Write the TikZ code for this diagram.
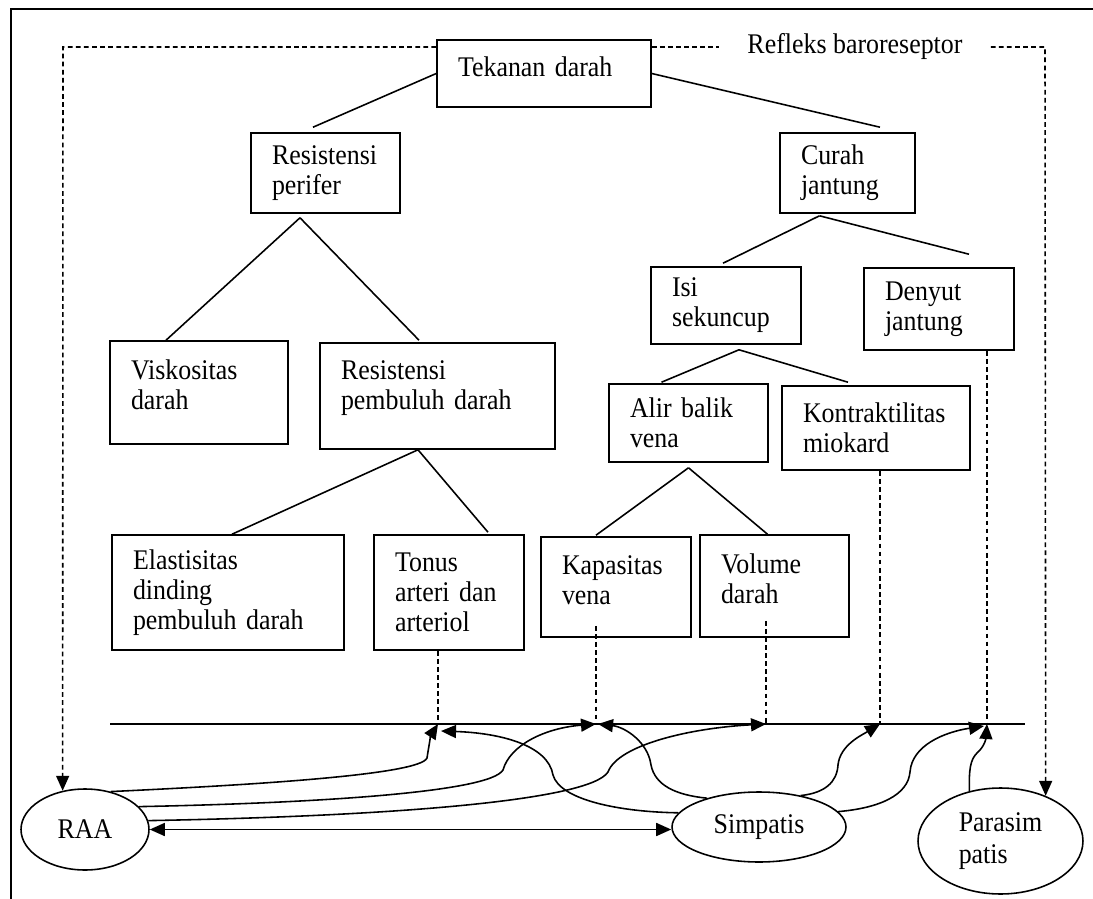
\documentclass[tikz,border=0pt]{standalone}
\usepackage{fontspec}
\setmainfont{Liberation Serif}[FakeStretch=0.91]
\usetikzlibrary{arrows.meta,calc,shapes.geometric}

\begin{document}
\begin{tikzpicture}[
  x=0.02cm,y=-0.02cm,
  font=\fontsize{16.2}{17}\selectfont,
  line width=0.9pt,
  >={Triangle[length=3mm,width=2.6mm]},
  box/.style={draw,rectangle,align=left,inner xsep=4.2mm,inner ysep=0pt},
  lifted/.style={execute at end node={\endgraf\vspace*{#1}}},
  blob/.style={draw,ellipse,inner sep=0pt},
  cue/.style={dash pattern=on 2.7pt off 1.9pt},
  flow/.style={->},
]
\useasboundingbox (0,0) rectangle (1093,899);

\coordinate (frameTL) at (11,9);
\coordinate (frameTR) at (1093,9);
\coordinate (frameBL) at (11,899);
\coordinate (cornerL) at (63,47);
\coordinate (cornerR) at (1045,47);
\coordinate (lineL) at (110,724);
\coordinate (lineR) at (1025,724);
\coordinate (hitTonus) at (438,724);
\coordinate (hitKap) at (596,724);
\coordinate (hitVol) at (766,724);
\coordinate (hitKon) at (880,724);
\coordinate (hitDen) at (987,724);

\node[box,lifted=0.26cm,minimum width=4.28cm,minimum height=1.34cm,text width=3.44cm] (tekanan) at (544,73.5) {Tekanan darah};
\node[inner xsep=5.5mm,inner ysep=1pt] (refleks) at (855,47) {Refleks baroreseptor};
\node[box,minimum width=2.98cm,minimum height=1.6cm,text width=2.14cm] (resPer) at (325.5,173) {Resistensi\\perifer};
\node[box,minimum width=2.7cm,minimum height=1.6cm,text width=1.86cm] (curah) at (847.5,173) {Curah\\jantung};
\node[box,lifted=0.3cm,minimum width=3.56cm,minimum height=2.06cm,text width=2.72cm] (visko) at (199,392.5) {Viskositas\\darah};
\node[box,lifted=0.3cm,minimum width=4.7cm,minimum height=2.12cm,text width=3.86cm] (resPem) at (437.5,396) {Resistensi\\pembuluh darah};
\node[box,minimum width=3cm,minimum height=1.54cm,text width=2.16cm] (isi) at (726,305.5) {Isi\\sekuncup};
\node[box,minimum width=3cm,minimum height=1.64cm,text width=2.16cm] (denyut) at (939,309) {Denyut\\jantung};
\node[box,minimum width=3.18cm,minimum height=1.56cm,text width=2.34cm] (alir) at (688.5,423) {Alir balik\\vena};
\node[box,minimum width=3.76cm,minimum height=1.68cm,text width=2.92cm] (kontrak) at (876,428) {Kontraktilitas\\miokard};
\node[box,minimum width=4.64cm,minimum height=2.3cm,text width=3.8cm] (elast) at (228,592.5) {Elastisitas\\dinding\\pembuluh darah};
\node[box,minimum width=3cm,minimum height=2.3cm,text width=2.16cm] (tonus) at (449,592.5) {Tonus\\arteri dan\\arteriol};
\node[box,lifted=0.28cm,minimum width=3cm,minimum height=2cm,text width=2.16cm] (kapas) at (616,587) {Kapasitas\\vena};
\node[box,lifted=0.28cm,minimum width=2.98cm,minimum height=2.04cm,text width=2.14cm] (volume) at (774.5,586) {Volume\\darah};

\node[blob,minimum width=2.56cm,minimum height=1.62cm] (raa) at (85,829.5) {RAA};
\node[blob,minimum width=3.48cm,minimum height=1.4cm] (simp) at (759,827) {Simpatis};
\node[blob,minimum width=3.3cm,minimum height=2.12cm,align=left,font=\fontsize{16.2}{18.5}\selectfont] (parasim) at (1000.5,841) {Parasim\\patis};

\coordinate (perFork) at ($(resPer.south)+(-25.5,4)$);
\coordinate (pemFork) at ($(resPem.south)+(-19.5,0)$);
\coordinate (curFork) at ($(curah.south)+(-28,2)$);
\coordinate (isiFork) at ($(isi.south)+(13,5)$);
\coordinate (alirFork) at ($(alir.south)+(0,5)$);

% frame and reflex loop
\draw (frameTR) -- (frameTL) -- (frameBL);
\draw[cue,flow] (tekanan.west |- cornerL) -- (cornerL) -- (raa.120);
\draw[cue] (tekanan.east |- cornerL) -- (refleks.west);
\draw[cue,flow] (refleks.east) -- (cornerR) -- (parasim.45);

% tree
\draw (tekanan.west) -- ($(resPer.north)+(-12.5,-5)$);
\draw (tekanan.east) -- ($(curah.north)+(32.5,-5)$);
\draw (perFork) -- ($(visko.north)+(-33,0)$);
\draw (perFork) -- ($(resPem.north)+(-18.5,-2)$);
\draw (pemFork) -- ($(elast.north)+(4,0)$);
\draw (pemFork) -- ($(tonus.north)+(39,-2)$);
\draw (curFork) -- ($(isi.north)+(-3,-3)$);
\draw (curFork) -- ($(denyut.north)+(30,-13)$);
\draw (isiFork) -- ($(alir.north)+(-27,-1)$);
\draw (isiFork) -- ($(kontrak.north)+(-28,-3)$);
\draw (alirFork) -- ($(kapas.north)+(-20,-1)$);
\draw (alirFork) -- ($(volume.north)+(-7,0)$);

% effectors
\draw (lineL) -- (lineR);
\draw[cue] (hitTonus |- tonus.south) -- (hitTonus);
\draw[cue] ($(hitKap |- kapas.south)+(0,-12)$) -- (hitKap);
\draw[cue] ($(hitVol |- volume.south)+(0,-17)$) -- (hitVol);
\draw[cue] (hitKon |- kontrak.south) -- (hitKon);
\draw[cue] (hitDen |- denyut.south) -- (hitDen);

\draw[<->] (raa.east) -- (raa.east -| simp.west);
\draw[flow] (raa.56) .. controls (250,785) and (420,775) .. (427,758) .. controls (429,745) and (431,735) .. (hitTonus);
\draw[flow] (raa.23) .. controls (320,803) and (490,792) .. (503,770) .. controls (510,745) and (545,728) .. (hitKap);
\draw[flow] (raa.8) .. controls (400,816) and (590,800) .. (608,772) .. controls (618,745) and (690,728) .. (hitVol);
\draw[flow] (simp.170) .. controls (620,812) and (560,800) .. (553,775) .. controls (548,745) and (500,733) .. ($(hitTonus)+(3,7)$);
\draw[flow] (simp.151) .. controls (675,795) and (655,785) .. (651,765) .. controls (648,742) and (625,727) .. ($(hitKap)+(2,0)$);
\draw[flow] (simp.37) .. controls (825,793) and (837,782) .. (838,765) .. controls (840,745) and (862,735) .. (hitKon);
\draw[flow] (simp.11) .. controls (880,808) and (908,795) .. (910,772) .. controls (912,745) and (945,732) .. ($(hitDen)+(-3,2)$);
\draw[flow] (parasim.122) .. controls (969,770) and (970,760) .. (977,753) .. controls (985,746) and (986,738) .. (hitDen);
\end{tikzpicture}
\end{document}
